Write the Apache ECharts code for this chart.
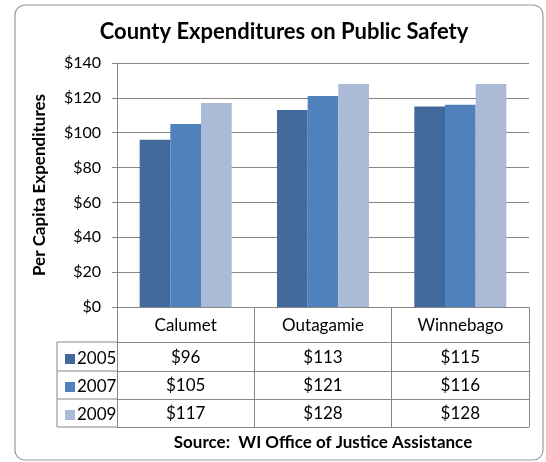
<!DOCTYPE html>
<html>
<head>
<meta charset="utf-8">
<script src="https://cdn.jsdelivr.net/npm/echarts@6/dist/echarts.min.js"></script>
<style>
  html, body { margin: 0; padding: 0; background: #fff; }
  #chart { width: 546px; height: 462px; }
</style>
</head>
<body>
<div id="chart"></div>
<script>
const categories = ["Calumet", "Outagamie", "Winnebago"];
const years = ["2005", "2007", "2009"];
const values2005 = [96, 113, 115];
const values2007 = [105, 121, 116];
const values2009 = [117, 128, 128];
const yTicks = [0, 20, 40, 60, 80, 100, 120, 140];

const colors = ["#41699b", "#4f81bd", "#aabad7"];
const rows = [values2005, values2007, values2009];
const font = "Lato, 'Open Sans', sans-serif";
const lineColor = "#868686";

// layout of plot and table under it
const plotLeft = 117, plotRight = 529, plotTop = 63, plotBottom = 307;
const tableLeft = 57;
const rowOffsets = [35, 64, 92, 120]; // lines below the axis

const chart = echarts.init(document.getElementById("chart"));

const xAxes = [
  {
    type: "category",
    data: categories,
    position: "bottom",
    axisLine: { lineStyle: { color: lineColor } },
    axisTick: { show: true, length: rowOffsets[3], interval: 0, lineStyle: { color: lineColor } },
    axisLabel: { color: "#000", fontFamily: font, fontSize: 17, margin: 19, verticalAlign: "middle" },
  },
];
rows.forEach((vals, r) => {
  xAxes.push({
    type: "category",
    data: categories,
    position: "bottom",
    offset: rowOffsets[r],
    axisLine: { show: true, lineStyle: { color: lineColor } },
    axisTick: { show: false },
    axisLabel: {
      color: "#000",
      fontFamily: font,
      fontSize: 17,
      margin: (rowOffsets[r + 1] - rowOffsets[r]) / 2 + 1,
      verticalAlign: "middle",
      formatter: (v, i) => "$" + vals[i],
    },
  });
});
xAxes.push({
  type: "category",
  data: categories,
  position: "bottom",
  offset: rowOffsets[3],
  axisLine: { show: true, lineStyle: { color: lineColor } },
  axisTick: { show: false },
  axisLabel: { show: false },
});

const tableLines = rowOffsets.map((o) => ({
  type: "line",
  shape: { x1: tableLeft, y1: plotBottom + o, x2: plotLeft, y2: plotBottom + o },
  style: { stroke: lineColor, lineWidth: 1 },
}));
tableLines.push({
  type: "line",
  shape: { x1: tableLeft, y1: plotBottom + rowOffsets[0], x2: tableLeft, y2: plotBottom + rowOffsets[3] },
  style: { stroke: lineColor, lineWidth: 1 },
});

chart.setOption({
  animation: false,
  title: {
    text: "County Expenditures on Public Safety",
    left: 279,
    textAlign: "center",
    top: 16,
    textStyle: { fontFamily: font, fontSize: 22, fontWeight: "bold", color: "#000" },
  },
  grid: { left: plotLeft, right: 546 - plotRight, top: plotTop, bottom: 462 - plotBottom },
  legend: {
    data: years,
    orient: "vertical",
    left: 60,
    top: plotBottom + rowOffsets[0] + 2,
    icon: "rect",
    itemWidth: 10,
    itemHeight: 10,
    itemGap: 8,
    textStyle: { fontFamily: font, fontSize: 17, color: "#000", lineHeight: 20, padding: [0, 0, 0, -3] },
  },
  xAxis: xAxes,
  yAxis: {
    type: "value",
    min: yTicks[0],
    max: yTicks[yTicks.length - 1],
    interval: 20,
    name: "Per Capita Expenditures",
    nameLocation: "middle",
    nameRotate: 90,
    nameGap: 69,
    nameTextStyle: { fontFamily: font, fontSize: 17, fontWeight: "bold", color: "#000" },
    axisLine: { show: true, lineStyle: { color: lineColor } },
    axisTick: { show: true, length: 5, lineStyle: { color: lineColor } },
    axisLabel: { color: "#000", fontFamily: font, fontSize: 16, margin: 16, formatter: (v) => "$" + v },
    splitLine: { lineStyle: { color: lineColor } },
  },
  series: years.map((y, i) => ({
    name: y,
    type: "bar",
    data: rows[i],
    barGap: "0%",
    barCategoryGap: "33%",
    itemStyle: { color: colors[i] },
  })),
  graphic: [
    {
      type: "rect",
      shape: { x: 15, y: 5, width: 528, height: 455, r: 10 },
      style: { fill: "none", stroke: "#9a9a9a", lineWidth: 1.2 },
      z: -1,
    },
    ...tableLines,
    {
      type: "text",
      style: {
        x: (plotLeft + plotRight) / 2,
        y: 443,
        text: "Source:  WI Office of Justice Assistance",
        textAlign: "center",
        textVerticalAlign: "middle",
        font: "bold 17px " + font,
        fill: "#000",
      },
    },
  ],
});
</script>
</body>
</html>
